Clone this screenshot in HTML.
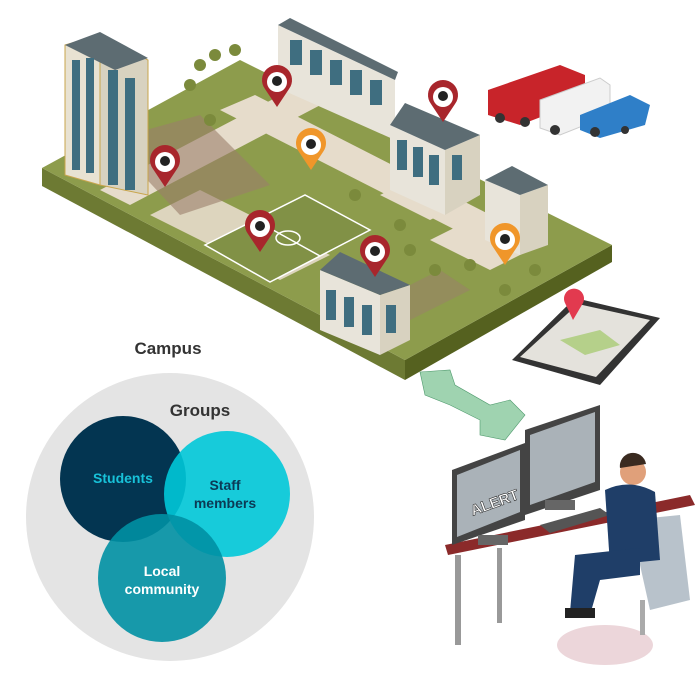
<!DOCTYPE html>
<html><head><meta charset="utf-8"><style>
html,body{margin:0;padding:0;background:#fff;width:700px;height:700px;overflow:hidden}
svg text{font-family:"Liberation Sans",Arial,sans-serif;font-weight:bold}
</style></head><body>
<svg width="700" height="700" viewBox="0 0 700 700" xmlns="http://www.w3.org/2000/svg">
<polygon points="42,168 405,360 405,380 42,186" fill="#6d7a33"/>
<polygon points="405,360 612,245 612,262 405,380" fill="#55611f"/>
<polygon points="42,168 240,60 612,245 405,360" fill="#8d9c4c"/>
<polygon points="100,190 300,85 330,100 130,205" fill="#e6dccb"/>
<polygon points="150,215 200,190 330,255 280,280" fill="#e6dccb" opacity="0.9"/>
<polygon points="220,110 255,95 520,230 485,245" fill="#e6dccb"/>
<polygon points="380,195 420,175 470,200 430,220" fill="#e6dccb"/>
<polygon points="430,240 470,220 530,250 490,270" fill="#e6dccb"/>
<polygon points="110,140 200,115 270,185 180,215" fill="#9b7e6b" opacity="0.6"/>
<polygon points="380,300 440,270 470,290 410,320" fill="#9b7e6b" opacity="0.5"/>
<polygon points="205,245 305,195 370,230 270,282" fill="#819146" stroke="#fff" stroke-width="1.5"/>
<line x1="255" y1="220" x2="320" y2="256" stroke="#fff" stroke-width="1.5"/>
<ellipse cx="288" cy="238" rx="12" ry="7" fill="none" stroke="#fff" stroke-width="1.5"/>
<g fill="#7b8a3c">
<circle cx="200" cy="65" r="6"/><circle cx="215" cy="55" r="6"/><circle cx="235" cy="50" r="6"/><circle cx="190" cy="85" r="6"/><circle cx="210" cy="120" r="6"/>
<circle cx="355" cy="195" r="6"/><circle cx="410" cy="250" r="6"/><circle cx="470" cy="265" r="6"/><circle cx="505" cy="290" r="6"/><circle cx="535" cy="270" r="6"/>
<circle cx="435" cy="270" r="6"/><circle cx="400" cy="225" r="6"/>
</g>
<polygon points="65,45 100,35 100,185 65,175" fill="#e8e2d2" stroke="#c9a54c"/>
<polygon points="100,35 148,60 148,195 100,185" fill="#d8d2c0" stroke="#c9a54c"/>
<polygon points="65,45 100,32 148,58 115,70" fill="#5d6c72"/>
<g fill="#3f6e80"><rect x="72" y="60" width="8" height="110"/><rect x="86" y="58" width="8" height="115"/><rect x="108" y="70" width="10" height="115"/><rect x="125" y="78" width="10" height="112"/></g>
<polygon points="278,25 395,80 395,140 278,88" fill="#e8e4da"/>
<polygon points="278,25 290,18 398,72 395,80" fill="#5d6c72"/>
<g fill="#3f6e80"><rect x="290" y="40" width="12" height="25"/><rect x="310" y="50" width="12" height="25"/><rect x="330" y="60" width="12" height="25"/><rect x="350" y="70" width="12" height="25"/><rect x="370" y="80" width="12" height="25"/></g>
<polygon points="390,125 445,150 445,215 390,190" fill="#e8e4da"/>
<polygon points="445,150 480,135 480,195 445,215" fill="#d8d2c0"/>
<polygon points="390,125 405,103 480,135 445,150" fill="#5d6c72"/>
<g fill="#3f6e80"><rect x="397" y="140" width="10" height="30"/><rect x="413" y="147" width="10" height="30"/><rect x="429" y="155" width="10" height="30"/><rect x="452" y="155" width="10" height="25"/></g>
<polygon points="485,180 520,195 520,255 485,240" fill="#e8e4da"/>
<polygon points="520,195 548,185 548,245 520,255" fill="#d8d2c0"/>
<polygon points="485,180 512,166 548,185 520,195" fill="#5d6c72"/>
<polygon points="320,270 380,295 380,355 320,330" fill="#e8e4da"/>
<polygon points="380,295 410,285 410,340 380,355" fill="#d8d2c0"/>
<polygon points="320,270 340,252 410,285 380,295" fill="#5d6c72"/>
<g fill="#3f6e80"><rect x="326" y="290" width="10" height="30"/><rect x="344" y="297" width="10" height="30"/><rect x="362" y="305" width="10" height="30"/><rect x="386" y="305" width="10" height="28"/></g>
<g>
<g transform="translate(277,85)"><path d="M0,22 L-12,4 A15,15 0 1,1 12,4 Z" fill="#a8262c"/><circle cx="0" cy="-3" r="10" fill="#fff"/><circle cx="0" cy="-4" r="5" fill="#222"/></g>
<g transform="translate(165,165)"><path d="M0,22 L-12,4 A15,15 0 1,1 12,4 Z" fill="#a8262c"/><circle cx="0" cy="-3" r="10" fill="#fff"/><circle cx="0" cy="-4" r="5" fill="#222"/></g>
<g transform="translate(311,148)"><path d="M0,22 L-12,4 A15,15 0 1,1 12,4 Z" fill="#f0962a"/><circle cx="0" cy="-3" r="10" fill="#fff"/><circle cx="0" cy="-4" r="5" fill="#222"/></g>
<g transform="translate(443,100)"><path d="M0,22 L-12,4 A15,15 0 1,1 12,4 Z" fill="#a8262c"/><circle cx="0" cy="-3" r="10" fill="#fff"/><circle cx="0" cy="-4" r="5" fill="#222"/></g>
<g transform="translate(260,230)"><path d="M0,22 L-12,4 A15,15 0 1,1 12,4 Z" fill="#a8262c"/><circle cx="0" cy="-3" r="10" fill="#fff"/><circle cx="0" cy="-4" r="5" fill="#222"/></g>
<g transform="translate(375,255)"><path d="M0,22 L-12,4 A15,15 0 1,1 12,4 Z" fill="#a8262c"/><circle cx="0" cy="-3" r="10" fill="#fff"/><circle cx="0" cy="-4" r="5" fill="#222"/></g>
<g transform="translate(505,243)"><path d="M0,22 L-12,4 A15,15 0 1,1 12,4 Z" fill="#f0962a"/><circle cx="0" cy="-3" r="10" fill="#fff"/><circle cx="0" cy="-4" r="5" fill="#222"/></g>
</g>
<polygon points="488,90 560,65 585,75 585,100 520,125 488,115" fill="#c8242a"/>
<polygon points="540,100 600,78 610,85 610,115 560,135 540,128" fill="#f2f2f2" stroke="#ccc"/>
<polygon points="580,115 630,95 650,105 645,125 600,138 580,130" fill="#2f7fc8"/>
<g fill="#333"><circle cx="500" cy="118" r="5"/><circle cx="525" cy="122" r="5"/><circle cx="555" cy="130" r="5"/><circle cx="595" cy="132" r="5"/><circle cx="625" cy="130" r="4"/></g>
<polygon points="512,360 575,298 660,318 600,385" fill="#333" />
<polygon points="520,357 578,304 650,320 596,377" fill="#e4e2dc"/>
<polygon points="560,340 600,330 620,345 585,355" fill="#b5d08a"/>
<path d="M573,320 L565,303 A10,10 0 1,1 583,303 Z" fill="#e23a4f"/>
<g fill="#9fd3b0" stroke="#4f9a6d" stroke-width="0.6">
<polygon points="420,372 450,370 455,385 490,405 510,400 525,415 505,440 480,435 480,420 450,405 425,395"/>
</g>
<polygon points="445,545 690,495 695,505 448,555" fill="#8b2a2a"/>
<rect x="455" y="555" width="6" height="90" fill="#999"/>
<rect x="497" y="548" width="5" height="75" fill="#999"/>
<polygon points="452,470 525,443 525,520 452,545" fill="#444"/>
<polygon points="457,475 520,450 520,512 457,537" fill="#aab2b8"/>
<text x="470" y="510" font-size="15" fill="#fff" transform="rotate(-20 488 505)" stroke="#333" stroke-width="0.6">ALERT</text>
<polygon points="525,430 600,405 600,490 525,515" fill="#444"/>
<polygon points="530,435 595,412 595,482 530,505" fill="#aab2b8"/>
<rect x="478" y="535" width="30" height="10" fill="#666"/>
<rect x="545" y="500" width="30" height="10" fill="#666"/>
<polygon points="540,525 600,508 610,515 550,533" fill="#555"/>
<ellipse cx="605" cy="645" rx="48" ry="20" fill="#ecd6da"/>
<polygon points="630,520 680,515 690,600 650,610" fill="#b8c2cb"/>
<rect x="640" y="600" width="5" height="35" fill="#aaa"/>
<circle cx="633" cy="472" r="13" fill="#e0a07a"/>
<path d="M620,468 a13,13 0 0 1 26,-4 l-26,4z" fill="#3a2a20"/>
<path d="M605,490 Q630,478 655,492 L660,560 L610,565 Z" fill="#1f3e68"/>
<path d="M575,555 L640,548 L640,575 L600,580 L590,615 L570,612 Z" fill="#1f3e68"/>
<rect x="565" y="608" width="30" height="10" fill="#222"/>
<text x="168" y="354" font-size="17" fill="#333" text-anchor="middle">Campus</text>
<circle cx="170" cy="517" r="144" fill="#e4e4e4"/>
<text x="200" y="416" font-size="17" fill="#333" text-anchor="middle">Groups</text>
<circle cx="123" cy="479" r="63" fill="#033551"/>
<circle cx="227" cy="494" r="63" fill="#00c8d8" opacity="0.9"/>
<circle cx="162" cy="578" r="64" fill="#0090a3" opacity="0.9"/>
<text x="123" y="483" font-size="14" fill="#18c2d9" text-anchor="middle">Students</text>
<text x="225" y="490" font-size="14" fill="#0b3a55" text-anchor="middle">Staff</text>
<text x="225" y="508" font-size="14" fill="#0b3a55" text-anchor="middle">members</text>
<text x="162" y="576" font-size="14" fill="#fff" text-anchor="middle">Local</text>
<text x="162" y="594" font-size="14" fill="#fff" text-anchor="middle">community</text>
</svg>
</body></html>
